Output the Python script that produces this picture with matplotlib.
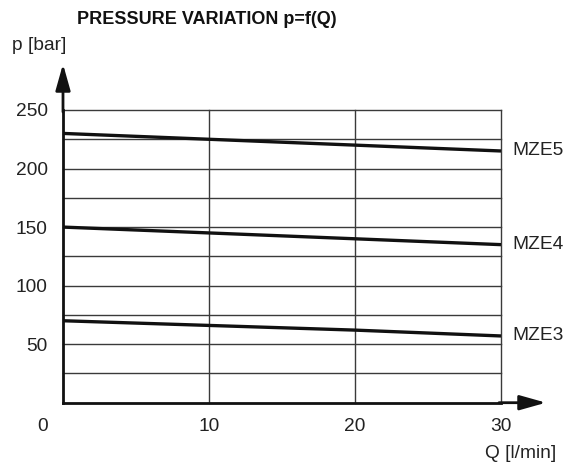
import matplotlib
matplotlib.use("Agg")
import matplotlib.pyplot as plt
import matplotlib.transforms as mtrans
from matplotlib.ticker import FixedLocator

plt.rcParams['font.family'] = ['Liberation Sans', 'DejaVu Sans']

# Data
flow = [0, 10, 20, 30]
mze5 = [230, 225, 220, 215]
mze4 = [150, 145, 140, 135]
mze3 = [70, 66, 62, 57]
series_names = ["MZE5", "MZE4", "MZE3"]
y_ticks = [50, 100, 150, 200, 250]
x_ticks = [10, 20, 30]
grid_y = [25, 50, 75, 100, 125, 150, 175, 200, 225, 250]
grid_x = [10, 20, 30]

FS = 13.8
W, H = 569, 466
fig = plt.figure(figsize=(W/100, H/100), dpi=100)
x0, x1 = 63, 501
y0, y1 = 402.7, 110
ax = fig.add_axes([x0/W, 1 - y0/H, (x1-x0)/W, (y0-y1)/H])
ax.set_xlim(0, 30)
ax.set_ylim(0, 250)

gcol = "#3a3a3a"
for gy in grid_y:
    ax.plot([0, 30], [gy, gy], color=gcol, lw=1.0, zorder=1, clip_on=False)
for gx in grid_x:
    ax.plot([gx, gx], [0, 250], color=gcol, lw=1.0, zorder=1, clip_on=False)

for vals, name in zip([mze5, mze4, mze3], series_names):
    ax.plot(flow, vals, color="#111111", lw=2.4, zorder=3, solid_capstyle='butt', clip_on=False)
    ax.annotate(name, xy=(flow[-1], vals[-1]), xytext=(8, 0), textcoords="offset points",
                ha="left", va="center", fontsize=FS, color="#222222")

for s in ["top", "right"]:
    ax.spines[s].set_visible(False)
ax.spines["left"].set_linewidth(2.0)
ax.spines["bottom"].set_linewidth(2.0)
ax.spines["left"].set_color("#111111")
ax.spines["bottom"].set_color("#111111")

ax.yaxis.set_major_locator(FixedLocator(y_ticks))
ax.xaxis.set_major_locator(FixedLocator(x_ticks))
ax.tick_params(axis="both", length=0, labelsize=FS, colors="#222222")
ax.tick_params(axis="y", pad=11)
ax.tick_params(axis="x", pad=11)
ax.text(-1.37, 0, "0", ha="center", va="top", fontsize=FS, color="#222222",
        transform=ax.transData + mtrans.ScaledTranslation(0, -11/72, fig.dpi_scale_trans))

# Axis arrows
ax.annotate("", xy=(x0/W, 1 - 64/H), xycoords="figure fraction",
            xytext=(x0/W, 1 - 112/H), textcoords="figure fraction",
            arrowprops=dict(arrowstyle="-|>,head_length=1.6,head_width=0.45", color="#111111", lw=2.0,
                            shrinkA=0, shrinkB=0))
ax.annotate("", xy=(546/W, 1 - y0/H), xycoords="figure fraction",
            xytext=(499/W, 1 - y0/H), textcoords="figure fraction",
            arrowprops=dict(arrowstyle="-|>,head_length=1.6,head_width=0.45", color="#111111", lw=2.0,
                            shrinkA=0, shrinkB=0))

fig.text(12/W, 1 - 45/H, "p [bar]", ha="left", va="center", fontsize=FS, color="#222222")
fig.text(556/W, 1 - 453/H, "Q [l/min]", ha="right", va="center", fontsize=FS, color="#222222")
fig.text(77/W, 1 - 19/H, "PRESSURE VARIATION p=f(Q)", ha="left", va="center",
         fontsize=13, fontweight="bold", color="#111111")

fig.savefig("out.png", dpi=100)
